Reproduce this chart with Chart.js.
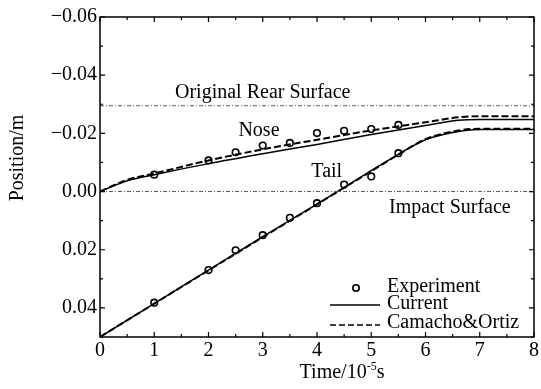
<!DOCTYPE html>
<html><head><meta charset="utf-8">
<script src="https://cdn.jsdelivr.net/npm/chart.js@4/dist/chart.umd.min.js"></script>
<style>html,body{margin:0;padding:0;background:#fff}</style>
</head><body>
<canvas id="c" width="541" height="389"></canvas>
<script>
// ---- data ----
const expTimes = [1, 2, 2.5, 3, 3.5, 4, 4.5, 5, 5.5];
const expNose = [-0.0058, -0.0107, -0.0135, -0.0158, -0.0167, -0.0201, -0.0209, -0.0215, -0.0229];
const expTail = [0.0382, 0.0270, 0.0202, 0.0150, 0.0090, 0.0040, -0.0024, -0.0052, -0.0132];

const noseTimes = [0, 0.5, 1, 2, 3, 4, 5, 6, 6.6, 7, 8];
const currentNose = [0, -0.0037, -0.0058, -0.0096, -0.0130, -0.0162, -0.0196, -0.0227, -0.0245, -0.0248, -0.0248];
const camachoNose = [0, -0.0040, -0.0062, -0.0107, -0.0145, -0.0178, -0.0210, -0.0238, -0.0255, -0.0259, -0.0259];

const tailTimes = [0, 1, 2, 3, 4, 5, 5.5, 6, 6.5, 7, 8];
const currentTail = [0.050, 0.0385, 0.0270, 0.0155, 0.0043, -0.0072, -0.0128, -0.0178, -0.0203, -0.0213, -0.0213];
const camachoTail = [0.050, 0.0385, 0.0271, 0.0157, 0.0044, -0.0070, -0.0127, -0.0180, -0.0206, -0.0216, -0.0216];

const refTimes = [0, 8];
const rearSurface = -0.0295;
const impactSurface = 0;

const xTickValues = [0, 1, 2, 3, 4, 5, 6, 7, 8];
const yTickValues = [-0.06, -0.04, -0.02, 0.00, 0.02, 0.04];
const yTickLabels = ['\u22120.06', '\u22120.04', '\u22120.02', '0.00', '0.02', '0.04'];

const seriesNames = ['Experiment', 'Current', 'Camacho&Ortiz'];
const annotations = [
  {text: 'Original Rear Surface', x: 3.0, y: -0.0322},
  {text: 'Nose', x: 2.93, y: -0.0192},
  {text: 'Tail', x: 4.18, y: -0.0049},
  {text: 'Impact Surface', x: 6.45, y: 0.0075}
];

// ---- helpers ----
const FONT = '"Liberation Serif", "Times New Roman", serif';
const zip = (xs, ys) => xs.map((x, i) => ({x: x, y: ys[i]}));

const lineDs = (data, dashed) => ({
  data: data, showLine: true, pointRadius: 0, borderColor: '#000',
  borderWidth: dashed ? 2 : 1.5, borderDash: dashed ? [7, 3] : [],
  cubicInterpolationMode: 'monotone', fill: false
});
const refDs = (val) => ({
  data: refTimes.map(t => ({x: t, y: val})), showLine: true, pointRadius: 0,
  borderColor: '#555', borderWidth: 1, borderDash: [4, 2, 1, 2], fill: false
});
const expDs = (data) => ({
  data: data, showLine: false, pointRadius: 3.3, pointStyle: 'circle',
  pointBackgroundColor: 'rgba(255,255,255,0)', pointBorderColor: '#000', pointBorderWidth: 1.6
});

const decor = {
  id: 'decor',
  afterDraw(chart) {
    const ctx = chart.ctx, a = chart.chartArea;
    const xs = chart.scales.x, ys = chart.scales.y;
    ctx.save();
    // frame
    ctx.strokeStyle = '#000'; ctx.lineWidth = 1.5; ctx.setLineDash([]);
    ctx.strokeRect(a.left, a.top, a.right - a.left, a.bottom - a.top);
    // ticks (inward)
    ctx.lineWidth = 1.2;
    ctx.beginPath();
    for (let v = 0; v <= 8.001; v += 0.5) {
      const p = xs.getPixelForValue(v);
      const major = Math.abs(v - Math.round(v)) < 1e-6;
      const L = major ? 5 : 3;
      ctx.moveTo(p, a.bottom); ctx.lineTo(p, a.bottom - L);
      ctx.moveTo(p, a.top); ctx.lineTo(p, a.top + L);
    }
    for (let k = -6; k <= 5; k++) {
      const v = k / 100;
      const p = ys.getPixelForValue(v);
      const major = (k % 2 === 0);
      const L = major ? 5 : 3;
      ctx.moveTo(a.left, p); ctx.lineTo(a.left + L, p);
      ctx.moveTo(a.right, p); ctx.lineTo(a.right - L, p);
    }
    ctx.stroke();

    // annotations
    ctx.fillStyle = '#000';
    ctx.font = '20px ' + FONT;
    ctx.textAlign = 'center'; ctx.textBaseline = 'alphabetic';
    annotations.forEach(an => {
      ctx.fillText(an.text, xs.getPixelForValue(an.x), ys.getPixelForValue(an.y));
    });

    // legend
    const r = a.right, b = a.bottom;
    const rows = [b - 50, b - 33, b - 14];
    ctx.textAlign = 'left'; ctx.textBaseline = 'middle';
    ctx.beginPath();
    ctx.lineWidth = 1.6;
    ctx.arc(r - 178, rows[0] + 1, 3.2, 0, Math.PI * 2);
    ctx.stroke();
    ctx.lineWidth = 1.5;
    ctx.beginPath(); ctx.moveTo(r - 204, rows[1] + 1); ctx.lineTo(r - 154, rows[1] + 1); ctx.stroke();
    ctx.setLineDash([6, 3]);
    ctx.beginPath(); ctx.moveTo(r - 204, rows[2] + 2); ctx.lineTo(r - 154, rows[2] + 2); ctx.stroke();
    ctx.setLineDash([]);
    seriesNames.forEach((n, i) => ctx.fillText(n, r - 147, rows[i]));

    // axis titles
    ctx.textAlign = 'left'; ctx.textBaseline = 'alphabetic';
    const t1 = 'Time/10', sup = '-5', t2 = 's';
    ctx.font = '20px ' + FONT;
    const w1 = ctx.measureText(t1).width, w3 = ctx.measureText(t2).width;
    ctx.font = '12px ' + FONT;
    const w2 = ctx.measureText(sup).width;
    const total = w1 + w2 + w3;
    let x0 = a.left + 242 - total / 2;
    const base = 378;
    ctx.font = '20px ' + FONT; ctx.fillText(t1, x0, base);
    ctx.font = '12px ' + FONT; ctx.fillText(sup, x0 + w1, base - 8);
    ctx.font = '20px ' + FONT; ctx.fillText(t2, x0 + w1 + w2, base);

    ctx.translate(18, 158);
    ctx.rotate(-Math.PI / 2);
    ctx.textAlign = 'center'; ctx.textBaseline = 'middle';
    ctx.fillText('Position/m', 0, 0);
    ctx.restore();
  }
};

new Chart(document.getElementById('c'), {
  type: 'scatter',
  data: {
    datasets: [
      refDs(rearSurface),
      refDs(impactSurface),
      lineDs(zip(noseTimes, currentNose), false),
      lineDs(zip(noseTimes, camachoNose), true),
      lineDs(zip(tailTimes, currentTail), false),
      lineDs(zip(tailTimes, camachoTail), true),
      expDs(zip(expTimes, expNose)),
      expDs(zip(expTimes, expTail))
    ]
  },
  options: {
    responsive: false, animation: false, devicePixelRatio: 1,
    layout: {padding: {left: 0, right: 4, top: 17, bottom: 0}},
    plugins: {legend: {display: false}, tooltip: {enabled: false}},
    scales: {
      x: {
        type: 'linear', min: 0, max: 8,
        afterBuildTicks: s => { s.ticks = xTickValues.map(v => ({value: v})); },
        afterFit: s => { s.height = 52; },
        grid: {display: false, drawTicks: false}, border: {display: false},
        ticks: {color: '#000', font: {family: FONT, size: 20}, padding: 2, maxRotation: 0}
      },
      y: {
        type: 'linear', min: -0.06, max: 0.05, reverse: true,
        afterBuildTicks: s => { s.ticks = yTickValues.map(v => ({value: v})); },
        afterFit: s => { s.width = 100; },
        grid: {display: false, drawTicks: false}, border: {display: false},
        ticks: {
          color: '#000', font: {family: FONT, size: 20}, padding: 3,
          callback: (v) => { const i = yTickValues.findIndex(t => Math.abs(t - v) < 1e-9); return i >= 0 ? yTickLabels[i] : ''; }
        }
      }
    }
  },
  plugins: [decor]
});
</script>
</body></html>
